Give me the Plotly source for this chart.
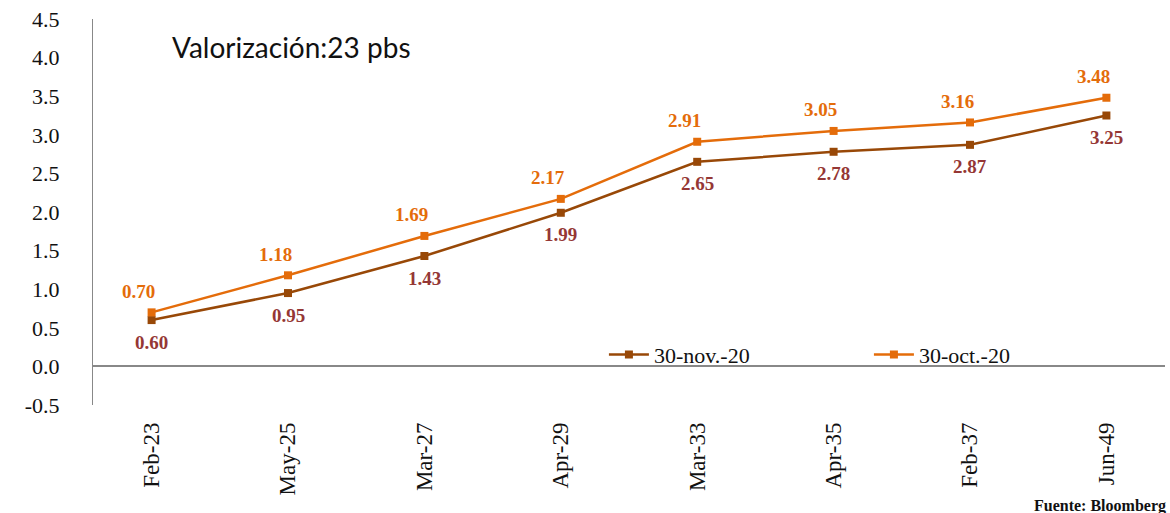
import plotly.graph_objects as go

categories = ["Feb-23", "May-25", "Mar-27", "Apr-29", "Mar-33", "Apr-35", "Feb-37", "Jun-49"]
nov_values = [0.60, 0.95, 1.43, 1.99, 2.65, 2.78, 2.87, 3.25]
oct_values = [0.70, 1.18, 1.69, 2.17, 2.91, 3.05, 3.16, 3.48]
nov_name = "30-nov.-20"
oct_name = "30-oct.-20"
y_ticks = [-0.5, 0.0, 0.5, 1.0, 1.5, 2.0, 2.5, 3.0, 3.5, 4.0, 4.5]

NOV_LINE = "#984807"
OCT_LINE = "#E46C0A"
NOV_LABEL = "#953735"
OCT_LABEL = "#E46C0A"
SERIF = "Liberation Serif"

fig = go.Figure()
fig.add_trace(go.Scatter(
    x=categories, y=nov_values, name=nov_name, mode="lines+markers",
    line=dict(color=NOV_LINE, width=2.5),
    marker=dict(symbol="square", size=8, color=NOV_LINE),
))
fig.add_trace(go.Scatter(
    x=categories, y=oct_values, name=oct_name, mode="lines+markers",
    line=dict(color=OCT_LINE, width=2.5),
    marker=dict(symbol="square", size=8, color=OCT_LINE),
))

annotations = []
for c, v in zip(categories, oct_values):
    annotations.append(dict(x=c, y=v, xref="x", yref="y", text=f"<b>{v:.2f}</b>",
                            showarrow=False, yshift=21, xshift=-13,
                            font=dict(family=SERIF, size=19, color=OCT_LABEL)))
for c, v in zip(categories, nov_values):
    annotations.append(dict(x=c, y=v, xref="x", yref="y", text=f"<b>{v:.2f}</b>",
                            showarrow=False, yshift=-22,
                            font=dict(family=SERIF, size=19, color=NOV_LABEL)))
annotations.append(dict(x=0.072, y=0.927, xref="paper", yref="paper", xanchor="left",
                        yanchor="middle", showarrow=False, text="Valorización:23 pbs",
                        font=dict(family="Lato", size=28, color="#111111")))
annotations.append(dict(x=1.003, y=-0.262, xref="paper", yref="paper", xanchor="right",
                        yanchor="middle", showarrow=False, text="<b>Fuente: Bloomberg</b>",
                        font=dict(family=SERIF, size=16, color="#111111")))

fig.update_layout(
    width=1170, height=513,
    margin=dict(l=93, r=5, t=19, b=108, autoexpand=False),
    paper_bgcolor="white", plot_bgcolor="white",
    showlegend=True,
    legend=dict(orientation="h", x=0.4766, y=0.13, xanchor="left", yanchor="middle",
                bgcolor="rgba(0,0,0,0)", font=dict(family=SERIF, size=22, color="#111111"),
                entrywidth=210, entrywidthmode="pixels", itemwidth=40),
    annotations=annotations,
)
fig.update_xaxes(
    type="category", showgrid=False, showline=False, zeroline=False, automargin=False,
    tickangle=-90, ticks="", tickfont=dict(family=SERIF, size=23, color="#111111"),
    ticklabelstandoff=12,
)
fig.update_yaxes(
    range=[-0.5, 4.5], tickvals=y_ticks, ticktext=[f"{t:.1f}" for t in y_ticks],
    showgrid=False, showline=True, linecolor="#888888", linewidth=1, automargin=False,
    zeroline=True, zerolinecolor="#888888", zerolinewidth=1.5,
    ticks="", ticklabelstandoff=28,
    tickfont=dict(family=SERIF, size=22, color="#111111"),
)

fig.write_html("out.html", config={"displayModeBar": False},
               post_script="document.body.style.margin='0';")
